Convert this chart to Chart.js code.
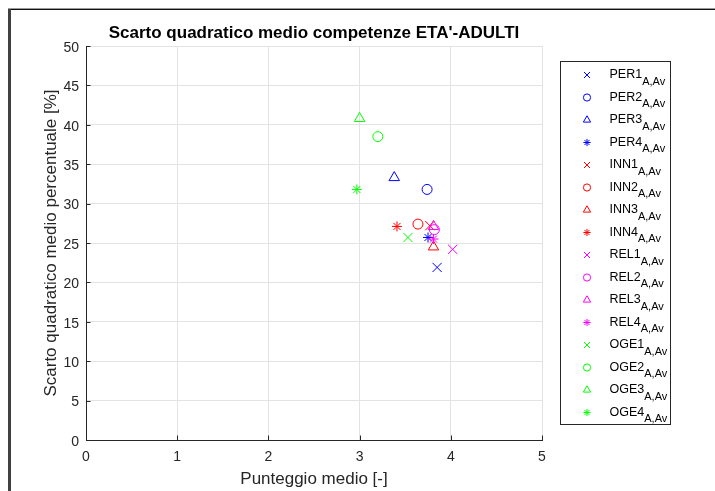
<!DOCTYPE html>
<html>
<head>
<meta charset="utf-8">
<script src="https://cdn.jsdelivr.net/npm/chart.js@4/dist/chart.umd.min.js"></script>
<style>
  html, body { margin: 0; padding: 0; background: #fff; }
  #wrap { width: 715px; height: 491px; position: relative; }
</style>
</head>
<body>
<div id="wrap"><canvas id="c" width="715" height="491"></canvas></div>
<script>
// Competence groups and their four items
const seriesNames = ['PER1','PER2','PER3','PER4','INN1','INN2','INN3','INN4',
                     'REL1','REL2','REL3','REL4','OGE1','OGE2','OGE3','OGE4'];
const seriesSub = 'A,Av';
// Mean score [-]
const meanScore = [3.85, 3.74, 3.38, 3.75, 3.77, 3.64, 3.81, 3.41,
                   4.02, 3.82, 3.81, 3.81, 3.53, 3.20, 3.00, 2.97];
// Mean percentage standard deviation [%]
const stdPercent = [21.9, 31.8, 33.3, 25.7, 27.2, 27.4, 24.5, 27.1,
                    24.2, 26.7, 27.1, 25.5, 25.7, 38.5, 40.8, 31.8];
const groupColors = ['#0000ff', '#ff0000', '#ff00ff', '#00ff00'];
const markerStyles = ['crossRot', 'circle', 'triangle', 'star'];
const markerRadius = { crossRot: 6.5, circle: 5, triangle: 6, star: 5 };
const legendRadius = { crossRot: 4.3, circle: 3.6, triangle: 4.2, star: 3.6 };
const xTicks = [0, 1, 2, 3, 4, 5];
const yTicks = [0, 5, 10, 15, 20, 25, 30, 35, 40, 45, 50];

const FONT = '"Liberation Sans", Arial, Helvetica, sans-serif';
const AXIS_INK = '#262626';
const GRID_INK = '#e3e3e3';

const datasets = seriesNames.map((name, i) => {
  const style = markerStyles[i % 4];
  const color = groupColors[Math.floor(i / 4)];
  return {
    label: name,
    data: [{ x: meanScore[i], y: stdPercent[i] }],
    pointStyle: style,
    pointRadius: markerRadius[style],
    pointHoverRadius: markerRadius[style],
    borderColor: color,
    backgroundColor: 'rgba(0,0,0,0)',
    pointBorderWidth: 1,
    order: seriesNames.length - i
  };
});

// Figure frame and white background
const framePlugin = {
  id: 'frame',
  beforeDraw(chart) {
    const ctx = chart.ctx;
    ctx.save();
    ctx.fillStyle = '#ffffff';
    ctx.fillRect(0, 0, chart.width, chart.height);
    ctx.fillStyle = '#9a9a9a';
    ctx.fillRect(8, 8, chart.width - 8, 1);
    ctx.fillStyle = '#111111';
    ctx.fillRect(8, 9, chart.width - 8, 1);
    ctx.fillStyle = '#404040';
    ctx.fillRect(8, 9, 3, chart.height - 9);
    ctx.restore();
  }
};

// Inward tick marks on the bottom and left axes
const tickMarkPlugin = {
  id: 'tickMarks',
  afterDraw(chart) {
    const ctx = chart.ctx;
    const xs = chart.scales.x, ys = chart.scales.y;
    const area = chart.chartArea;
    const len = 4.5;
    ctx.save();
    ctx.strokeStyle = AXIS_INK;
    ctx.lineWidth = 1;
    ctx.beginPath();
    xs.ticks.forEach(t => {
      const px = Math.round(xs.getPixelForValue(t.value)) + 0.5;
      ctx.moveTo(px, area.bottom);
      ctx.lineTo(px, area.bottom - len);
    });
    ys.ticks.forEach(t => {
      const py = Math.round(ys.getPixelForValue(t.value)) + 0.5;
      ctx.moveTo(area.left, py);
      ctx.lineTo(area.left + len, py);
    });
    ctx.stroke();
    ctx.restore();
  }
};

// Boxed legend with subscripted labels
const legendPlugin = {
  id: 'subLegend',
  afterDraw(chart) {
    const ctx = chart.ctx;
    const box = { x: 560.5, y: 61.5, w: 110, h: 363 };
    const firstY = 75, step = 22.5;
    ctx.save();
    ctx.fillStyle = '#ffffff';
    ctx.fillRect(box.x, box.y, box.w, box.h);
    ctx.strokeStyle = AXIS_INK;
    ctx.lineWidth = 1;
    ctx.strokeRect(box.x, box.y, box.w, box.h);
    chart.data.datasets.forEach((ds, i) => {
      const cy = firstY + i * step;
      ctx.strokeStyle = ds.borderColor;
      ctx.fillStyle = 'rgba(0,0,0,0)';
      ctx.lineWidth = 1;
      Chart.helpers.drawPoint(ctx, {
        pointStyle: ds.pointStyle,
        radius: legendRadius[ds.pointStyle],
        rotation: 0,
        borderWidth: 1
      }, 587, cy);
      ctx.fillStyle = '#000000';
      ctx.textAlign = 'left';
      ctx.textBaseline = 'alphabetic';
      ctx.font = '12.5px ' + FONT;
      ctx.fillText(ds.label, 609.5, cy + 3);
      const w = ctx.measureText(ds.label).width;
      ctx.font = '11px ' + FONT;
      ctx.fillText(seriesSub, 609.5 + w, cy + 9.5);
    });
    ctx.restore();
  }
};

new Chart(document.getElementById('c'), {
  type: 'scatter',
  data: { datasets },
  options: {
    responsive: false,
    animation: false,
    devicePixelRatio: 1,
    layout: { padding: { left: 0, right: 173, top: 0, bottom: 0 } },
    plugins: {
      legend: { display: false },
      tooltip: { enabled: false },
      title: {
        display: true,
        fullSize: false,
        text: "Scarto quadratico medio competenze ETA'-ADULTI",
        color: '#000000',
        font: { family: FONT, size: 17, weight: 'bold' },
        padding: { top: 23.3, bottom: 2.3 }
      }
    },
    scales: {
      x: {
        type: 'linear',
        min: 0, max: 5,
        afterBuildTicks(scale) { scale.ticks = xTicks.map(v => ({ value: v })); },
        afterFit(scale) { scale.height = 51; },
        ticks: {
          color: AXIS_INK,
          font: { family: FONT, size: 14 },
          padding: 9,
          maxRotation: 0
        },
        grid: { color: GRID_INK, lineWidth: 1, drawTicks: false },
        border: { color: AXIS_INK, width: 1 },
        title: {
          display: true,
          text: 'Punteggio medio [-]',
          color: AXIS_INK,
          font: { family: FONT, size: 17 },
          padding: { top: 0, bottom: 1.3 }
        }
      },
      y: {
        type: 'linear',
        min: 0, max: 50,
        afterBuildTicks(scale) { scale.ticks = yTicks.map(v => ({ value: v })); },
        afterFit(scale) { scale.width = 86; },
        ticks: {
          color: AXIS_INK,
          font: { family: FONT, size: 14 },
          padding: 7,
          labelOffset: 2
        },
        grid: { color: GRID_INK, lineWidth: 1, drawTicks: false },
        border: { color: AXIS_INK, width: 1 },
        title: {
          display: true,
          text: 'Scarto quadratico medio percentuale [%]',
          color: AXIS_INK,
          font: { family: FONT, size: 17 },
          padding: { top: 41, bottom: 0 }
        }
      }
    }
  },
  plugins: [framePlugin, tickMarkPlugin, legendPlugin]
});
</script>
</body>
</html>
